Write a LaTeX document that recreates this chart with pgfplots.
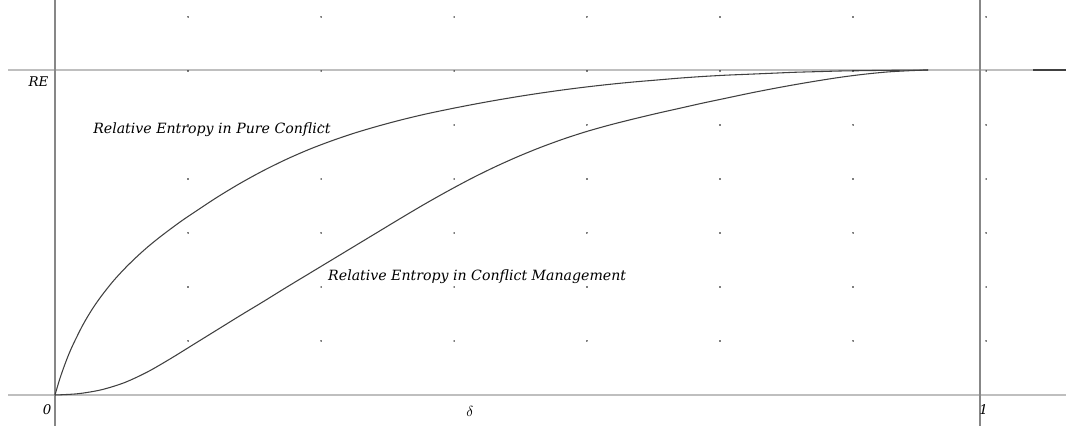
\documentclass[border=0pt]{standalone}
\usepackage{pgfplots}
\pgfplotsset{compat=1.18}
\usepackage{fontspec}
\setmainfont{DejaVu Serif}
\begin{document}
\begin{tikzpicture}
\begin{axis}[
  scale only axis,
  width=799.5pt, height=318.75pt,
  xmin=-0.05946, xmax=1.09297,
  ymin=-0.09231, ymax=1.21538,
  axis lines=none, ticks=none,
  clip=true,
]
% faint grid dots
\addplot[only marks, mark=*, mark size=0.3pt, draw=none, fill=black!12] table {
x y
0.1438 0.1662
0.1438 0.3323
0.1438 0.4985
0.1438 0.6646
0.1438 0.8308
0.1438 0.9969
0.1438 1.1631
0.2876 0.1662
0.2876 0.3323
0.2876 0.4985
0.2876 0.6646
0.2876 0.8308
0.2876 0.9969
0.2876 1.1631
0.4314 0.1662
0.4314 0.3323
0.4314 0.4985
0.4314 0.6646
0.4314 0.8308
0.4314 0.9969
0.4314 1.1631
0.5751 0.1662
0.5751 0.3323
0.5751 0.4985
0.5751 0.6646
0.5751 0.8308
0.5751 0.9969
0.5751 1.1631
0.7189 0.1662
0.7189 0.3323
0.7189 0.4985
0.7189 0.6646
0.7189 0.8308
0.7189 0.9969
0.7189 1.1631
0.8627 0.1662
0.8627 0.3323
0.8627 0.4985
0.8627 0.6646
0.8627 0.8308
0.8627 0.9969
0.8627 1.1631
1.0065 0.1662
1.0065 0.3323
1.0065 0.4985
1.0065 0.6646
1.0065 0.8308
1.0065 0.9969
1.0065 1.1631
};
% reference lines
\draw[black!25, line width=1.4pt] (axis cs:-0.0508,0) -- (axis cs:1.1,0);
\draw[black!25, line width=1.4pt] (axis cs:-0.0508,1) -- (axis cs:1.1,1);
\draw[black!47, line width=1.4pt] (axis cs:0,-0.1) -- (axis cs:0,1.22);
\draw[black!47, line width=1.4pt] (axis cs:1,-0.1) -- (axis cs:1,1.22);
% Pure conflict
\addplot[smooth, black!75, line width=0.8pt] table {
x y
0 0
0.005 0.048
0.01 0.089
0.015 0.126
0.02 0.158
0.03 0.215
0.04 0.263
0.05 0.304
0.0625 0.349
0.075 0.388
0.0875 0.423
0.10 0.455
0.1125 0.484
0.125 0.511
0.1375 0.537
0.15 0.561
0.175 0.608
0.20 0.651
0.225 0.690
0.25 0.725
0.275 0.756
0.30 0.783
0.325 0.807
0.35 0.828
0.375 0.847
0.40 0.864
0.425 0.879
0.45 0.893
0.475 0.906
0.50 0.918
0.525 0.929
0.55 0.939
0.575 0.948
0.60 0.956
0.625 0.963
0.65 0.969
0.675 0.975
0.70 0.980
0.725 0.984
0.75 0.987
0.775 0.990
0.80 0.993
0.825 0.995
0.85 0.997
0.875 0.998
0.90 0.999
0.944 1.0
};
% Conflict management
\addplot[smooth, black!75, line width=0.8pt] table {
x y
0 0
0.025 0.004
0.05 0.016
0.075 0.038
0.10 0.071
0.125 0.112
0.15 0.156
0.175 0.200
0.20 0.244
0.225 0.287
0.25 0.331
0.275 0.374
0.30 0.417
0.325 0.460
0.35 0.503
0.375 0.546
0.40 0.588
0.425 0.628
0.45 0.666
0.475 0.701
0.50 0.733
0.525 0.762
0.55 0.788
0.575 0.811
0.60 0.831
0.625 0.849
0.65 0.866
0.675 0.882
0.70 0.898
0.725 0.913
0.75 0.928
0.775 0.942
0.80 0.955
0.825 0.967
0.85 0.978
0.875 0.987
0.90 0.994
0.925 0.998
0.944 1.0
};
\addplot[black!75, line width=0.8pt] coordinates {(1.0573,1) (1.1,1)};
% labels
\node[anchor=east, font=\itshape\fontsize{10}{12}\selectfont] at (axis cs:-0.002,0.963) {RE};
\node[font=\itshape\fontsize{10}{12}\selectfont] at (axis cs:-0.0086,-0.046) {0};
\node[font=\fontsize{11}{12}\selectfont] at (axis cs:0.4486,-0.052) {$\delta$};
\node[font=\itshape\fontsize{10}{12}\selectfont] at (axis cs:1.004,-0.046) {1};
\node[anchor=west, font=\itshape\fontsize{10.6}{12}\selectfont, inner sep=0pt] at (axis cs:0.0411,0.815) {Relative Entropy in Pure Conflict};
\node[anchor=west, font=\itshape\fontsize{10.6}{12}\selectfont, inner sep=0pt] at (axis cs:0.2951,0.363) {Relative Entropy in Conflict Management};
\end{axis}
\pgfresetboundingbox
\path[use as bounding box] (current axis.south west) rectangle (current axis.north east);
\end{tikzpicture}
\end{document}
